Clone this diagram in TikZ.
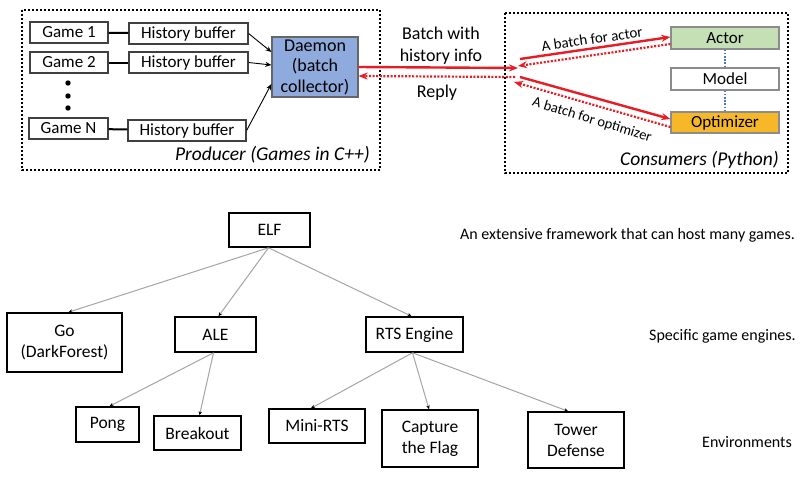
\documentclass[tikz,border=0pt]{standalone}
\usepackage{fontspec}
\setmainfont{Carlito}
\usetikzlibrary{arrows.meta}
\definecolor{myred}{RGB}{232,28,36}
\definecolor{daemonblue}{RGB}{143,170,220}
\definecolor{actorgreen}{RGB}{197,224,180}
\definecolor{optorange}{RGB}{246,184,40}
\definecolor{dotblue}{RGB}{70,120,200}
\definecolor{edgegray}{RGB}{165,165,165}
\tikzset{
  box/.style={draw=black!75, line width=1.2pt, inner sep=0pt, align=center, font=\fontsize{17}{20}\selectfont},
  tbox/.style={draw=black, line width=1.6pt, inner sep=0pt, align=center, font=\fontsize{17.5}{21}\selectfont},
  frame/.style={draw=black, line width=2.6pt, dash pattern=on 2pt off 2pt},
  redsolid/.style={draw=myred, line width=2.4pt, -{Stealth[length=9pt,width=7pt]}},
  reddot/.style={draw=myred, line width=2.2pt, dash pattern=on 2pt off 1.6pt, -{Stealth[length=9pt,width=7pt]}},
  blackarrow/.style={draw=black, line width=0.9pt, -{Stealth[length=6pt,width=5pt]}},
  tedge/.style={draw=edgegray, line width=1pt, -{Stealth[length=4pt,width=3.5pt,color=black]}},
  plain/.style={inner sep=0pt, align=center},
}
\begin{document}
\begin{tikzpicture}[x=1pt,y=-1pt]
\useasboundingbox[fill=white] (0,0) rectangle (800,477);
% ---------- Producer ----------
\draw[frame] (22,10) rectangle (380,170);
\node[box, minimum width=78pt, minimum height=21pt] (g1) at (69,32.5) {Game 1};
\node[box, minimum width=78pt, minimum height=21pt] (g2) at (69,62.5) {Game 2};
\node[box, minimum width=79pt, minimum height=21pt] (gN) at (68.5,128.5) {Game N};
\node[box, minimum width=119pt, minimum height=21pt] (h1) at (188.5,33.5) {History buffer};
\node[box, minimum width=119pt, minimum height=21pt] (h2) at (188.5,62.5) {History buffer};
\node[box, minimum width=118pt, minimum height=21pt] (hN) at (187,130.5) {History buffer};
\node[box, fill=daemonblue, draw=black!60, minimum width=86pt, minimum height=60pt, font=\fontsize{18}{20.5}\selectfont] (daemon) at (315,67) {Daemon\\(batch\\collector)};
\foreach \yy in {83,96,108} \fill (68,\yy) circle (2.7pt);
\draw[line width=2pt] (g1) -- (h1);
\draw[line width=2pt] (g2) -- (h2);
\draw[line width=2pt] (gN) -- (hN);
\draw[blackarrow] (h1.east) -- ([yshift=15pt]daemon.west);
\draw[blackarrow] (h2.east) -- ([yshift=2pt]daemon.west);
\draw[blackarrow] (hN.east) -- ([yshift=-17pt]daemon.west);
\node[plain, anchor=east, font=\fontsize{19.5}{22}\selectfont\itshape] (plab) at (370,155) {Producer (Games in C++)};
% ---------- Consumers ----------
\draw[frame] (505,13) rectangle (788,173);
\node[box, fill=actorgreen, draw=black!45, minimum width=108pt, minimum height=22pt] (actor) at (725,38) {Actor};
\node[box, draw=black!45, minimum width=108pt, minimum height=22pt] (model) at (725,79) {Model};
\node[box, fill=optorange, draw=black!45, minimum width=108pt, minimum height=21pt] (opt) at (725,122.5) {Optimizer};
\draw[dotblue, line width=1.6pt, dash pattern=on 1.6pt off 1.6pt] (actor.south) -- (model.north);
\draw[dotblue, line width=1.6pt, dash pattern=on 1.6pt off 1.6pt] (model.south) -- (opt.north);
\node[plain, anchor=east, font=\fontsize{19.5}{22}\selectfont\itshape] (clab) at (779,160) {Consumers (Python)};
% hub coordinates
\coordinate (hubR) at (518,68);
\coordinate (hubL) at (515,77);
\coordinate (aS) at (520,59);
\coordinate (aD) at (518,66);
\coordinate (oS) at (520,77);
\coordinate (oD) at (514,82);
\draw[redsolid] (daemon.east) -- (hubR);
\draw[reddot] (hubL) -- ([yshift=-9pt]daemon.east);
\draw[redsolid] (aS) -- ([yshift=1pt]actor.west);
\draw[reddot] ([yshift=-6pt]actor.west) -- (aD);
\draw[redsolid] (oS) -- ([yshift=3.5pt]opt.west);
\draw[reddot] ([yshift=-4.5pt]opt.west) -- (oD);
\node[plain, font=\fontsize{18}{22}\selectfont] (bwh) at (441,46) {Batch with\\history info};
\node[plain, font=\fontsize{18}{20}\selectfont] (reply) at (437,93) {Reply};
\node[plain, rotate=8.3, font=\fontsize{15}{17}\selectfont] (albl) at (592,39) {A batch for actor};
\node[plain, rotate=-17, font=\fontsize{14.5}{17}\selectfont] (olbl) at (592,120) {A batch for optimizer};
% ---------- Tree ----------
\node[tbox, minimum width=81pt, minimum height=34pt] (elf) at (269.5,230) {ELF};
\node[tbox, minimum width=115pt, minimum height=59pt] (go) at (64.5,342.5) {Go\\(DarkForest)};
\node[tbox, minimum width=81pt, minimum height=35pt] (ale) at (215.5,334.5) {ALE};
\node[tbox, minimum width=97pt, minimum height=35pt] (rts) at (414.5,334.5) {RTS Engine};
\node[tbox, minimum width=63pt, minimum height=35pt] (pong) at (107.5,424.5) {Pong};
\node[tbox, minimum width=87pt, minimum height=34pt] (brk) at (197.5,433) {Breakout};
\node[tbox, minimum width=96pt, minimum height=34pt] (mini) at (317,426) {Mini-RTS};
\node[tbox, minimum width=96pt, minimum height=57pt] (cap) at (430,438.5) {Capture\\the Flag};
\node[tbox, minimum width=96pt, minimum height=56pt] (tower) at (576,440) {Tower\\Defense};
\draw[tedge] ([xshift=-1pt]elf.south) -- ([xshift=4pt]go.north);
\draw[tedge] ([xshift=-1pt]elf.south) -- ([xshift=3pt]ale.north);
\draw[tedge] ([xshift=-1pt]elf.south) -- ([xshift=-3pt]rts.north);
\draw[tedge] ([xshift=-2pt]ale.south) -- ([xshift=2pt]pong.north);
\draw[tedge] ([xshift=-2pt]ale.south) -- ([xshift=2pt]brk.north);
\draw[tedge] ([xshift=-2pt]rts.south) -- ([xshift=-6pt]mini.north);
\draw[tedge] ([xshift=-2pt]rts.south) -- ([xshift=-1pt]cap.north);
\draw[tedge] ([xshift=-2pt]rts.south) -- ([xshift=-8pt]tower.north);
\node[plain, anchor=west, font=\fontsize{16}{19}\selectfont] (t1) at (460,235) {An extensive framework that can host many games.};
\node[plain, anchor=west, font=\fontsize{16}{19}\selectfont] (t2) at (649,336) {Specific game engines.};
\node[plain, anchor=west, font=\fontsize{16}{19}\selectfont] (t3) at (702,442) {Environments};
\end{tikzpicture}
\end{document}
